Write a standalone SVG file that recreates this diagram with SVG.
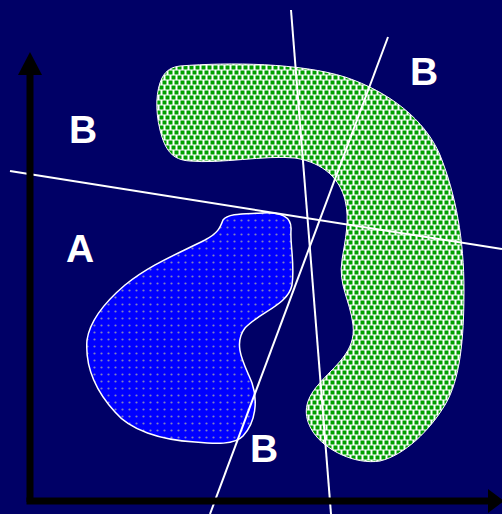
<svg xmlns="http://www.w3.org/2000/svg" width="502" height="514" viewBox="0 0 502 514">
<style>
.lbl{font-family:"Liberation Sans",Arial,sans-serif;font-weight:bold;font-size:39px;fill:#ffffff}
.cut{stroke:#ffffff;stroke-width:2;fill:none}
.axis{stroke:#000000;stroke-width:7;fill:none}
</style>
<defs>
<pattern id="greenDots" patternUnits="userSpaceOnUse" width="6" height="10">
<rect width="6" height="10" fill="#ffffff"/>
<rect x="0.5" y="0.5" width="4" height="4" fill="#00a000"/>
<rect x="3.5" y="5.5" width="4" height="4" fill="#00a000"/>
<rect x="-2.5" y="5.5" width="4" height="4" fill="#00a000"/>
</pattern>
<pattern id="blueDots" patternUnits="userSpaceOnUse" width="7" height="7">
<rect width="7" height="7" fill="#0000ff"/>
<circle cx="3.5" cy="3.5" r="1.1" fill="#8080c0"/>
</pattern>
</defs>
<rect width="502" height="514" fill="#000066"/>
<g id="regionB">
<path d="M 180,66 C 230,62 300,63 345,77 C 390,92 425,120 440,155 C 456,195 464,240 464,290 C 464,340 460,380 445,405 C 430,430 405,455 380,461 C 355,465 325,450 313,432 C 302,415 305,400 318,385 C 335,365 356,352 353,325 C 350,300 338,285 342,260 C 345,240 350,220 345,200 C 340,180 325,163 295,158 C 265,155 220,164 190,161 C 172,160 165,150 160,130 C 155,110 156,90 162,78 C 166,70 172,67 180,66 Z" fill="url(#greenDots)" stroke="#ffffff" stroke-width="1"/>
</g>
<g id="regionA">
<path d="M 262,213 C 280,212 292,216 291,230 C 290,245 295,265 292,285 C 288,305 260,312 245,328 C 232,345 245,365 252,383 C 258,400 256,422 243,436 C 235,445 215,444 195,442 C 160,440 130,430 115,412 C 95,390 85,365 87,340 C 90,320 105,302 125,285 C 150,265 175,255 205,240 C 218,233 220,228 223,220 C 228,213 245,214 262,213 Z" fill="url(#blueDots)" stroke="#ffffff" stroke-width="1.5"/>
</g>
<g id="connectors">
<line class="cut" x1="10" y1="171" x2="502" y2="249"/>
<line class="cut" x1="291" y1="10" x2="331" y2="514"/>
<line class="cut" x1="388" y1="37" x2="210" y2="514"/>
</g>
<g id="axes">
<line class="axis" x1="30" y1="72" x2="30" y2="502"/>
<polygon points="30,52 18,75 42,75" fill="#000000"/>
<line class="axis" x1="26.5" y1="501" x2="490" y2="501"/>
<polygon points="504,501 488,489 488,513" fill="#000000"/>
</g>
<g id="labels">
<text class="lbl" x="69" y="143">B</text>
<text class="lbl" x="66" y="262">A</text>
<text class="lbl" x="410" y="85">B</text>
<text class="lbl" x="250" y="462">B</text>
</g>
</svg>
